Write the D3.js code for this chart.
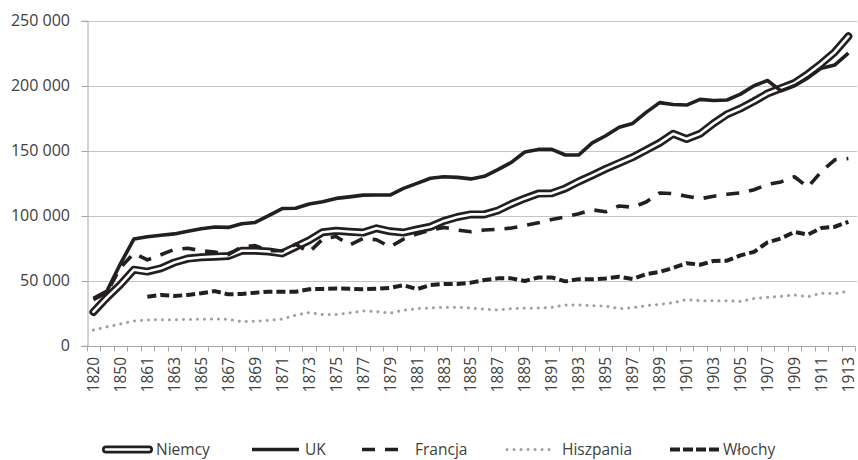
<!DOCTYPE html>
<html><head><meta charset="utf-8">
<script src="https://cdn.jsdelivr.net/npm/d3@7"></script>
<style>
html,body{margin:0;padding:0;background:#fff;}
svg{display:block;}
text{font-family:"Open Sans",sans-serif;fill:#404040;}
</style></head>
<body>
<svg id="chart" width="858" height="460"></svg>
<script>
const years = ["1820","1840","1850","1860","1861","1862","1863","1864","1865","1866","1867","1868","1869","1870","1871","1872","1873","1874","1875","1876","1877","1878","1879","1880","1881","1882","1883","1884","1885","1886","1887","1888","1889","1890","1891","1892","1893","1894","1895","1896","1897","1898","1899","1900","1901","1902","1903","1904","1905","1906","1907","1908","1909","1910","1911","1912","1913"];

const niemcy = [26000,37000,47000,58500,57000,59500,64000,67000,68000,68500,69000,73000,73000,72500,71000,76000,81000,87300,88400,87700,87000,90300,88000,87000,89400,91500,96000,99000,101000,101000,104000,109000,113300,117000,117200,121000,126300,131000,136000,140500,145000,150500,156000,163000,159000,163000,171000,178000,182500,188000,194000,198000,202000,209000,217000,226000,238000];

const uk = [36500,42000,63000,82000,83800,85000,86000,88000,90000,91300,91000,93800,94800,100000,105500,105700,109000,110700,113300,114500,115800,115900,115900,121000,124900,128800,130000,129500,128300,130300,135500,141000,149000,151000,151000,146700,146700,156000,161500,168000,171000,179500,187000,185500,185100,189500,188600,189000,193500,200000,204000,196000,200000,206000,213500,216000,225000];

const francja = [35500,41000,60000,71000,66000,70000,74000,75000,73000,72000,70000,76000,77000,73000,73000,78000,72000,82000,84000,77500,82500,81500,76000,82000,86000,89000,91000,89000,87700,89000,89500,90500,92500,94500,97000,99000,101500,104500,103000,107500,106500,110500,117500,117000,115000,113000,115000,116500,117500,120000,124000,126000,130000,122000,134000,143000,144000];

const hiszpania = [12000,14500,16700,19000,19800,20000,20000,20200,20300,20500,20300,18500,18800,19500,20500,23500,25500,24000,24000,25200,26700,26200,25000,27300,28500,29000,29500,29500,29000,28000,27500,28500,28800,29000,29500,31300,31300,30800,30500,28500,29200,30800,31800,33000,35500,34600,34600,34600,34000,36300,37200,38000,39000,37700,40300,40000,42000];

const wlochy = [null,null,null,null,37700,39000,38300,39000,40300,42000,39500,39800,40800,41500,41500,41500,43400,43700,44000,43800,43500,43800,44500,46500,43500,46700,47500,47500,48500,50500,51800,51800,49800,52500,52500,49500,51200,51100,51700,53000,51300,55000,56800,59800,63500,62300,65200,65400,69500,72200,79500,82500,87500,85500,90500,91500,95300];

const seriesNames = ["Niemcy","UK","Francja","Hiszpania","Włochy"];
const yTicks = [0,50000,100000,150000,200000,250000];

const svg = d3.select("#chart");
const pLeft = 86.7, pRight = 855.1, pTop = 20.7, pBottom = 345.7;

const x = d3.scaleBand().domain(years).range([pLeft, pRight]);
const y = d3.scaleLinear().domain([0, 250000]).range([pBottom, pTop]);
const cx = d => x(d) + x.bandwidth() / 2;

const fmt = v => v === 0 ? "0" : d3.format(",")(v).replace(/,/g, " ");

// gridlines
svg.append("g").selectAll("line").data(yTicks.filter(t => t > 0)).join("line")
  .attr("x1", pLeft).attr("x2", pRight + 2)
  .attr("y1", d => Math.round(y(d)) + 0.5).attr("y2", d => Math.round(y(d)) + 0.5)
  .attr("stroke", "#c4c4c4").attr("stroke-width", 1);

// y axis
const yAxis = svg.append("g").attr("transform", `translate(${Math.round(pLeft) + 0.5},0)`)
  .call(d3.axisLeft(y).tickValues(yTicks).tickSize(6).tickFormat(""));
yAxis.select(".domain").attr("stroke", "#a6a6a6");
yAxis.selectAll(".tick line").attr("stroke", "#a6a6a6");
yAxis.selectAll(".tick").attr("transform", d => `translate(0,${Math.round(y(d)) + 0.5})`);
svg.append("g").selectAll("text").data(yTicks).join("text")
  .attr("x", 70).attr("y", d => y(d)).attr("dy", "0.36em")
  .attr("text-anchor", "end").style("font-size", "16px")
  .text(fmt);

// x axis
const xb = Math.round(pBottom) + 0.5;
svg.append("line").attr("x1", pLeft).attr("x2", pRight).attr("y1", xb).attr("y2", xb)
  .attr("stroke", "#a6a6a6");
const bounds = years.map(d => x(d)).concat([x(years[years.length - 1]) + x.bandwidth()]);
svg.append("g").selectAll("line").data(bounds).join("line")
  .attr("x1", d => Math.round(d) + 0.5).attr("x2", d => Math.round(d) + 0.5)
  .attr("y1", xb).attr("y2", xb + 5).attr("stroke", "#a6a6a6");
svg.append("g").selectAll("text").data(years.filter((d, i) => i % 2 === 0)).join("text")
  .attr("transform", d => `translate(${cx(d)},357) rotate(-90)`)
  .attr("dy", "0.36em").attr("text-anchor", "end").style("font-size", "15.5px")
  .text(d => d);

// lines
const line = d3.line().defined(d => d.v != null).x(d => cx(d.year)).y(d => y(d.v));
const pts = arr => arr.map((v, i) => ({ year: years[i], v }));

const g = svg.append("g").attr("fill", "none").attr("stroke-linejoin", "round");
g.append("path").attr("d", line(pts(niemcy))).attr("stroke", "#231f20").attr("stroke-width", 8).attr("stroke-linecap", "round");
g.append("path").attr("d", line(pts(niemcy))).attr("stroke", "#fff").attr("stroke-width", 2.6).attr("stroke-linecap", "round");
g.append("path").attr("d", line(pts(uk))).attr("stroke", "#231f20").attr("stroke-width", 3.6);
g.append("path").attr("d", line(pts(francja))).attr("stroke", "#231f20").attr("stroke-width", 3.6).attr("stroke-dasharray", "13,10");
g.append("path").attr("d", line(pts(hiszpania))).attr("stroke", "#a0a0a0").attr("stroke-width", 3).attr("stroke-linecap", "round").attr("stroke-dasharray", "0.1,6.9");
g.append("path").attr("d", line(pts(wlochy))).attr("stroke", "#231f20").attr("stroke-width", 4).attr("stroke-dasharray", "9,4");

// legend
const ly = 449.5;
const lg = svg.append("g").attr("fill", "none");
lg.append("line").attr("x1", 106).attr("x2", 149).attr("y1", ly).attr("y2", ly).attr("stroke", "#231f20").attr("stroke-width", 8).attr("stroke-linecap", "round");
lg.append("line").attr("x1", 106).attr("x2", 149).attr("y1", ly).attr("y2", ly).attr("stroke", "#fff").attr("stroke-width", 2.6).attr("stroke-linecap", "round");
lg.append("line").attr("x1", 252).attr("x2", 299).attr("y1", ly).attr("y2", ly).attr("stroke", "#231f20").attr("stroke-width", 3.6);
lg.append("line").attr("x1", 362).attr("x2", 398).attr("y1", ly).attr("y2", ly).attr("stroke", "#231f20").attr("stroke-width", 3.6).attr("stroke-dasharray", "13,10");
lg.append("line").attr("x1", 507).attr("x2", 550).attr("y1", ly).attr("y2", ly).attr("stroke", "#a0a0a0").attr("stroke-width", 3).attr("stroke-linecap", "round").attr("stroke-dasharray", "0.1,6.9");
lg.append("line").attr("x1", 670).attr("x2", 719).attr("y1", ly).attr("y2", ly).attr("stroke", "#231f20").attr("stroke-width", 4).attr("stroke-dasharray", "10,3");
const lx = [156, 305, 415, 562, 723];
svg.append("g").selectAll("text").data(seriesNames).join("text")
  .attr("x", (d, i) => lx[i]).attr("y", ly).attr("dy", "0.36em")
  .style("font-size", "15.5px").text(d => d);
</script>
</body></html>
